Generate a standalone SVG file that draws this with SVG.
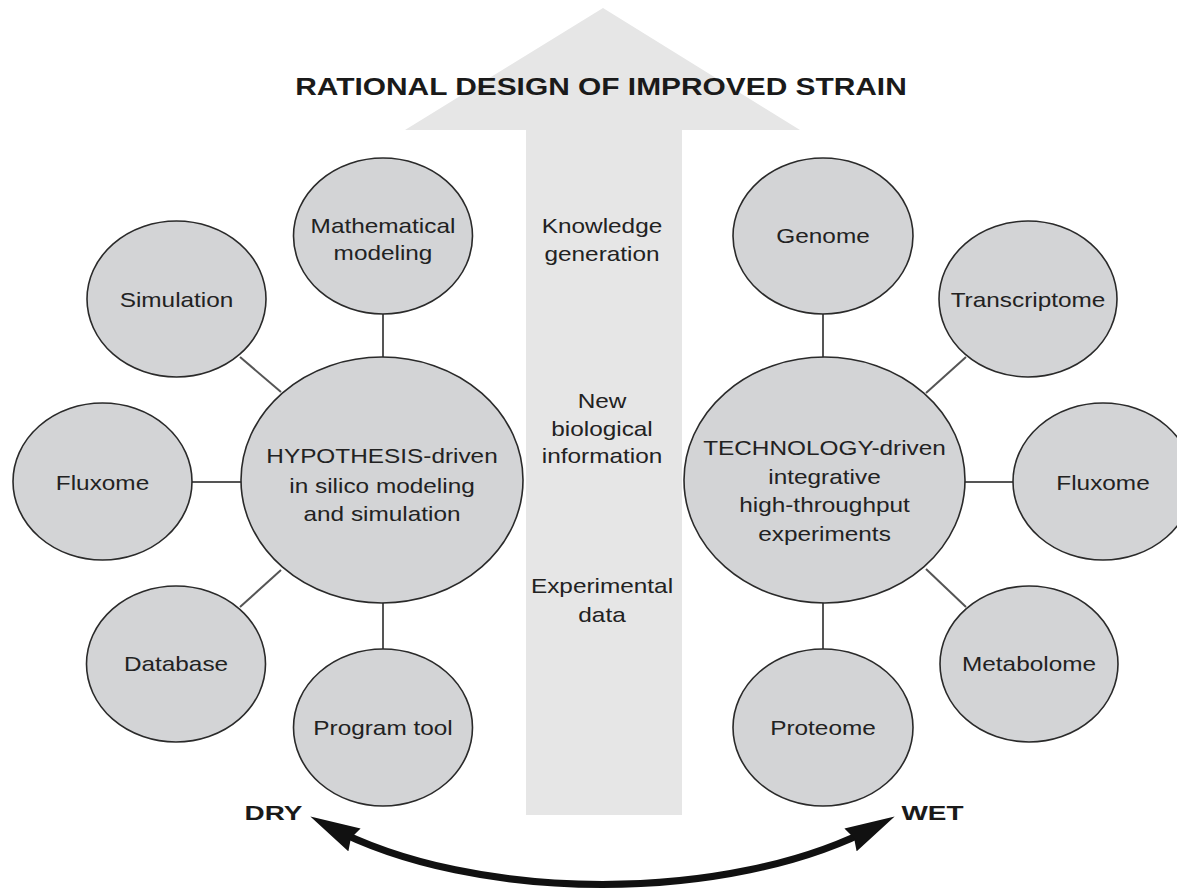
<svg xmlns="http://www.w3.org/2000/svg" width="1177" height="890" viewBox="0 0 1177 890">
<defs>
<style>
.node{fill:#d3d4d6;stroke:#2a2a2a;stroke-width:1.6}
.lbl{font-family:"Liberation Sans",Arial,sans-serif;font-size:21px;fill:#222;text-anchor:middle}
.bold{font-family:"Liberation Sans",Arial,sans-serif;font-weight:bold;fill:#1a1a1a;text-anchor:middle}
.conn{stroke:#555;stroke-width:2;fill:none}
</style>
<marker id="head" viewBox="0 0 50 26" refX="30" refY="13" markerWidth="50" markerHeight="26" markerUnits="userSpaceOnUse" orient="auto-start-reverse">
<path d="M50,13 L0,0 L4,13 L0,26 Z" fill="#111"/>
</marker>
</defs>
<rect width="1177" height="890" fill="#fff"/>
<g id="big-arrow">
<path d="M603,8 L800,130 L682,130 L682,815 L526,815 L526,130 L405,130 Z" fill="#e6e6e6"/>
<text class="bold" font-size="23" transform="translate(601 0) scale(1.3 1)" x="0" y="95">RATIONAL DESIGN OF IMPROVED STRAIN</text>
</g>
<g id="flow-labels">
<text class="lbl" transform="translate(602 0) scale(1.16 1)"><tspan x="0" y="233">Knowledge</tspan><tspan x="0" y="261">generation</tspan></text>
<text class="lbl" transform="translate(602 0) scale(1.16 1)"><tspan x="0" y="408">New</tspan><tspan x="0" y="436">biological</tspan><tspan x="0" y="463">information</tspan></text>
<text class="lbl" transform="translate(602 0) scale(1.16 1)"><tspan x="0" y="593">Experimental</tspan><tspan x="0" y="622">data</tspan></text>
</g>
<g id="connectors">
<line class="conn" x1="383" y1="314" x2="383" y2="357"/>
<line class="conn" x1="240" y1="357" x2="281" y2="392"/>
<line class="conn" x1="192" y1="482" x2="241" y2="482"/>
<line class="conn" x1="240" y1="607" x2="281" y2="570"/>
<line class="conn" x1="383" y1="603" x2="383" y2="649"/>
<line class="conn" x1="823" y1="314" x2="823" y2="357"/>
<line class="conn" x1="966" y1="357" x2="926" y2="393"/>
<line class="conn" x1="965" y1="482" x2="1013" y2="482"/>
<line class="conn" x1="926" y1="569" x2="966" y2="607"/>
<line class="conn" x1="823" y1="603" x2="823" y2="649"/>
<path d="M328,825.8 C475,904 730,904 877,825.8" fill="none" stroke="#111" stroke-width="7" marker-start="url(#head)" marker-end="url(#head)"/>
</g>
<g id="n-hyp">
<ellipse class="node" cx="382" cy="480" rx="141" ry="123"/>
<text class="lbl" transform="translate(382 0) scale(1.16 1)"><tspan x="0" y="463">HYPOTHESIS-driven</tspan><tspan x="0" y="493">in silico modeling</tspan><tspan x="0" y="521">and simulation</tspan></text>
</g>
<g id="n-math">
<ellipse class="node" cx="383" cy="236" rx="89.5" ry="78"/>
<text class="lbl" transform="translate(383 0) scale(1.16 1)"><tspan x="0" y="233">Mathematical</tspan><tspan x="0" y="260">modeling</tspan></text>
</g>
<g id="n-sim">
<ellipse class="node" cx="176.5" cy="299" rx="89.5" ry="78"/>
<text class="lbl" transform="translate(176.5 0) scale(1.16 1)" x="0" y="307">Simulation</text>
</g>
<g id="n-flux-l">
<ellipse class="node" cx="102.5" cy="481.5" rx="89.5" ry="78.5"/>
<text class="lbl" transform="translate(102.5 0) scale(1.16 1)" x="0" y="490">Fluxome</text>
</g>
<g id="n-db">
<ellipse class="node" cx="176" cy="664" rx="89.5" ry="78"/>
<text class="lbl" transform="translate(176 0) scale(1.16 1)" x="0" y="671">Database</text>
</g>
<g id="n-prog">
<ellipse class="node" cx="383" cy="727.5" rx="89.5" ry="78.5"/>
<text class="lbl" transform="translate(383 0) scale(1.16 1)" x="0" y="735">Program tool</text>
</g>
<g id="n-tech">
<ellipse class="node" cx="824.5" cy="480" rx="140.5" ry="123"/>
<text class="lbl" transform="translate(824.5 0) scale(1.16 1)"><tspan x="0" y="455">TECHNOLOGY-driven</tspan><tspan x="0" y="484">integrative</tspan><tspan x="0" y="512">high-throughput</tspan><tspan x="0" y="541">experiments</tspan></text>
</g>
<g id="n-genome">
<ellipse class="node" cx="823" cy="236" rx="90" ry="78"/>
<text class="lbl" transform="translate(823 0) scale(1.16 1)" x="0" y="243">Genome</text>
</g>
<g id="n-trans">
<ellipse class="node" cx="1028" cy="299" rx="89" ry="78"/>
<text class="lbl" transform="translate(1028 0) scale(1.16 1)" x="0" y="307">Transcriptome</text>
</g>
<g id="n-flux-r">
<ellipse class="node" cx="1103" cy="481.5" rx="90" ry="78.5"/>
<text class="lbl" transform="translate(1103 0) scale(1.16 1)" x="0" y="490">Fluxome</text>
</g>
<g id="n-metab">
<ellipse class="node" cx="1029" cy="664" rx="89" ry="78"/>
<text class="lbl" transform="translate(1029 0) scale(1.16 1)" x="0" y="671">Metabolome</text>
</g>
<g id="n-prot">
<ellipse class="node" cx="823" cy="727.5" rx="90" ry="78.5"/>
<text class="lbl" transform="translate(823 0) scale(1.16 1)" x="0" y="735">Proteome</text>
</g>
<g id="n-dry">
<text class="bold" font-size="21" transform="translate(273.5 0) scale(1.33 1)" x="0" y="820">DRY</text>
</g>
<g id="n-wet">
<text class="bold" font-size="21" transform="translate(932.5 0) scale(1.33 1)" x="0" y="820">WET</text>
</g>
</svg>
